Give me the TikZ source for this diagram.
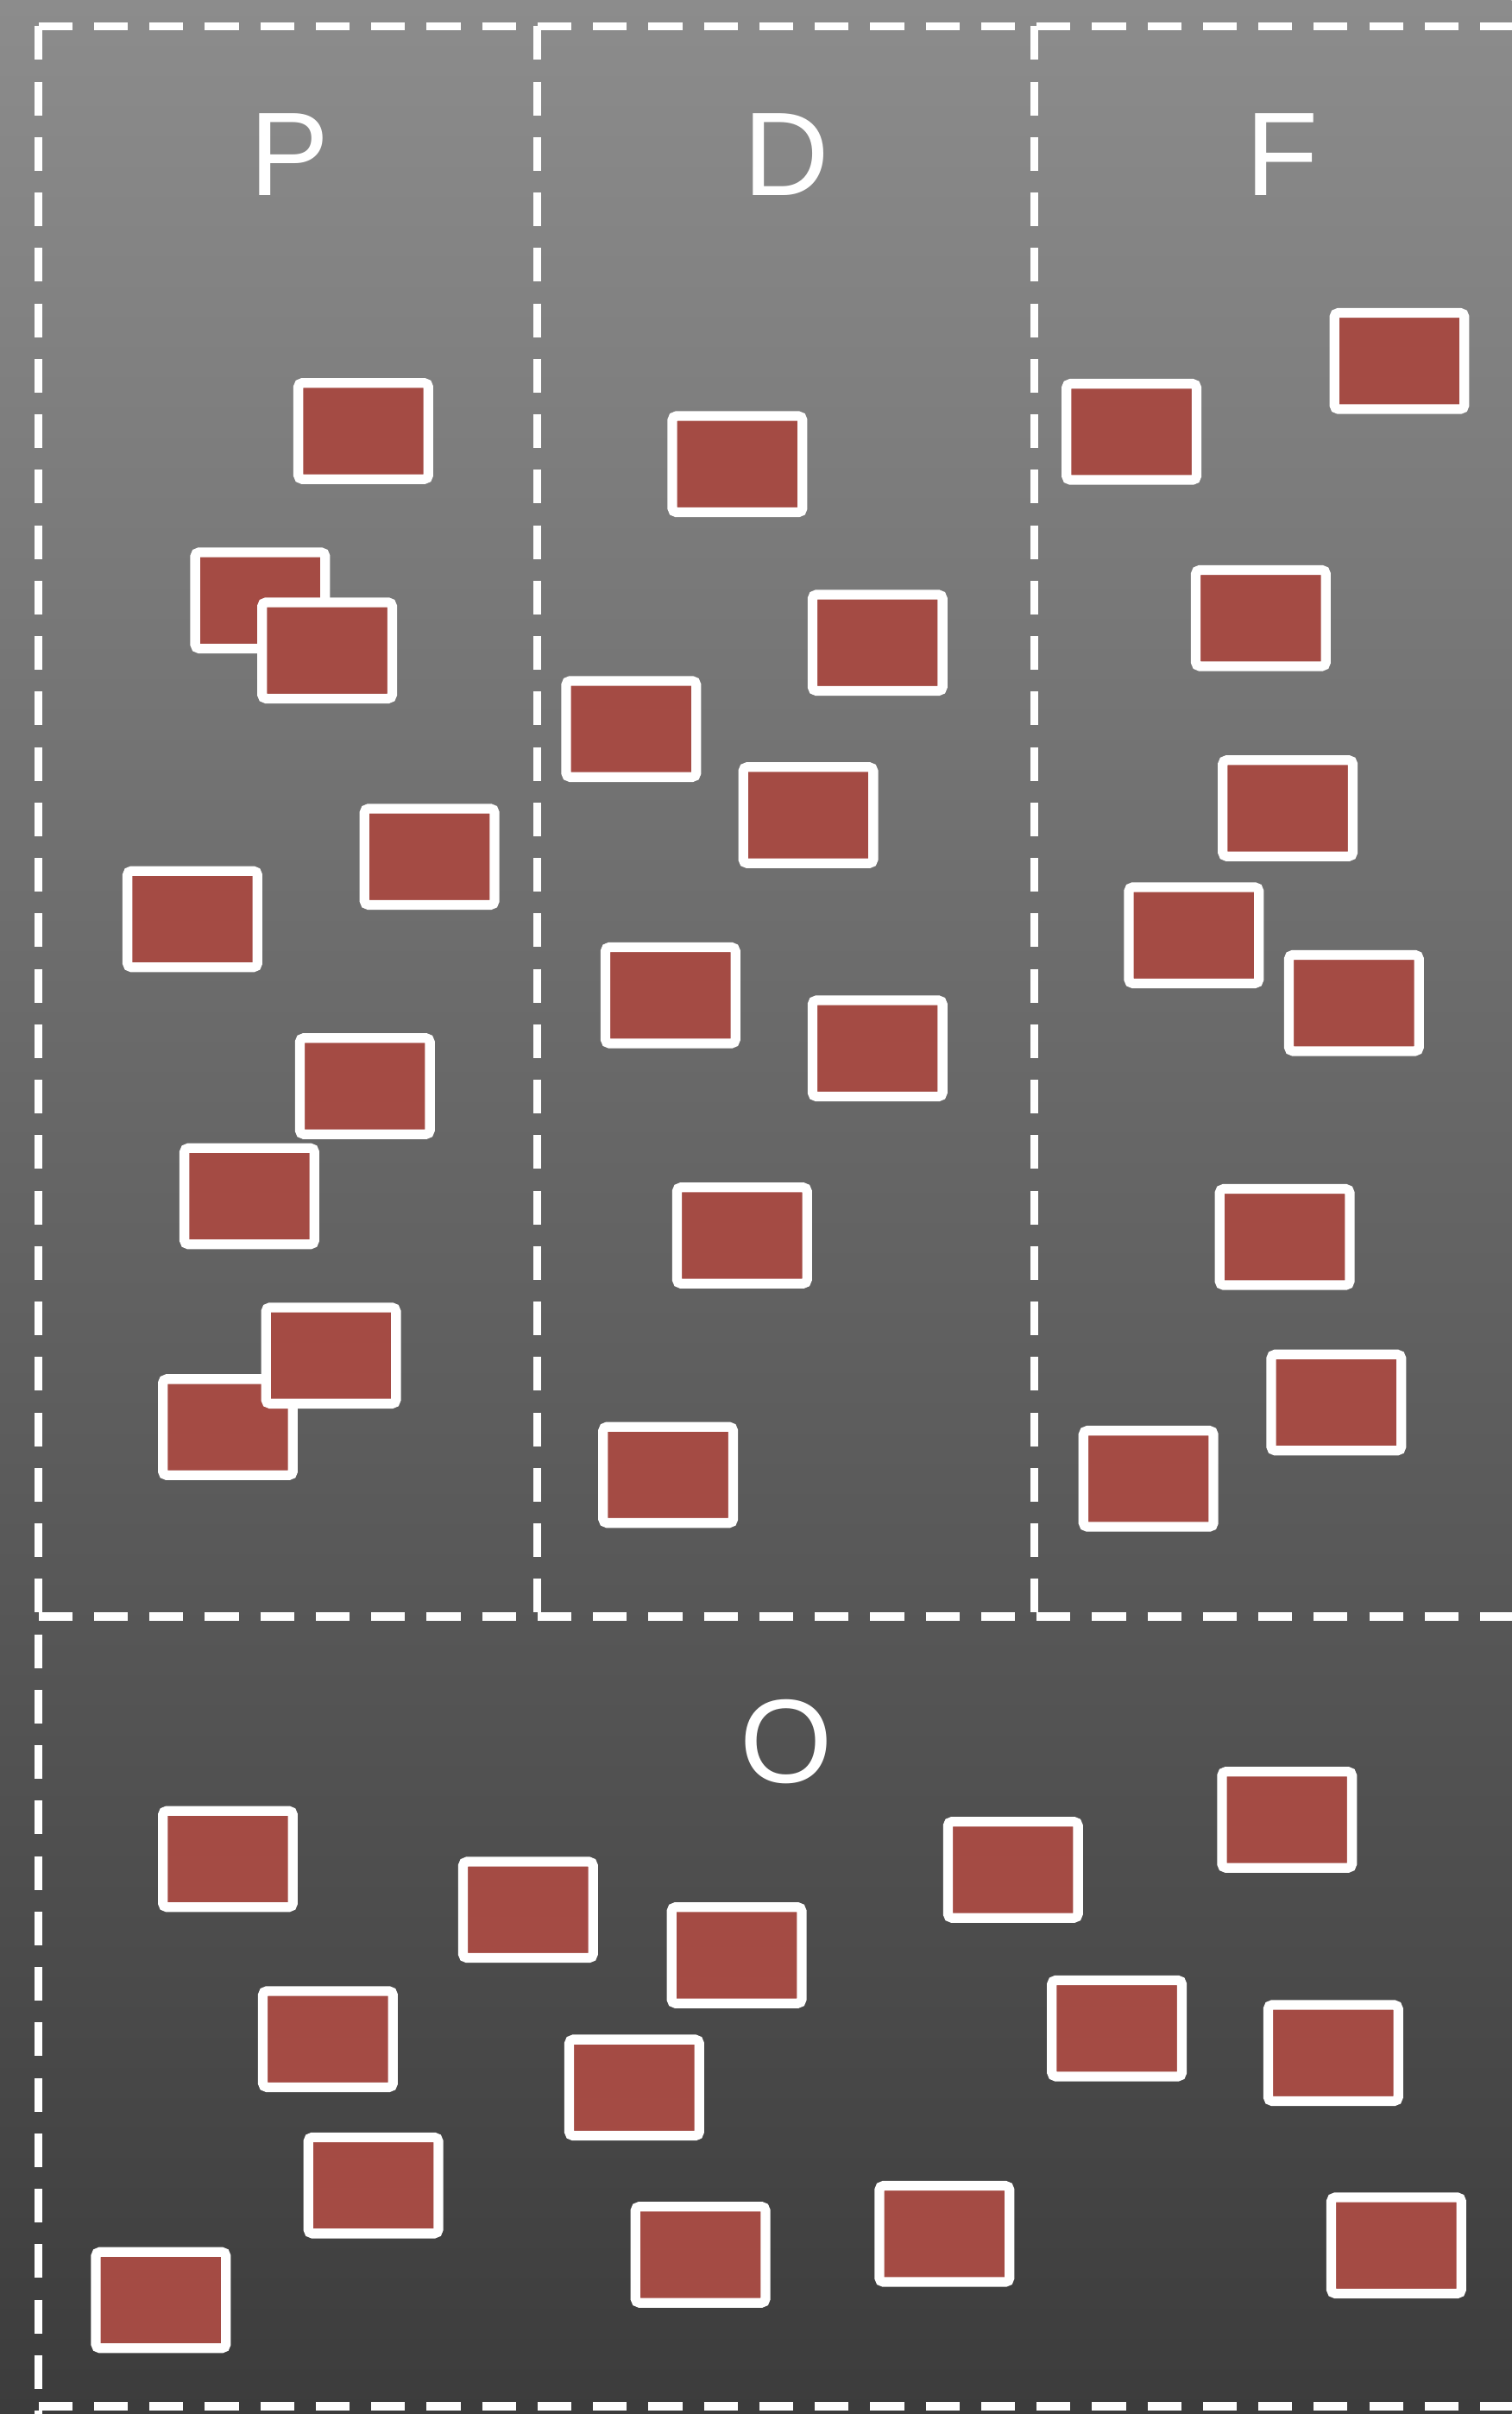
\documentclass[tikz,border=0pt]{standalone}
\usepackage{fontspec}
\setmainfont{Liberation Sans}
\definecolor{boxred}{RGB}{164,75,68}
\definecolor{bgtop}{RGB}{140,140,140}
\definecolor{bgbot}{RGB}{60,60,60}
\tikzset{
  rbox/.style={draw=white, fill=boxred, line width=3.6pt, rounded corners=1.5pt,
    minimum width=1.69cm, minimum height=1.25cm, inner sep=0pt},
  divline/.style={draw=white, line width=3pt, dash pattern=on 12.5pt off 8pt},
  lbl/.style={text=white, font=\fontsize{44}{44}\selectfont, inner sep=0pt, anchor=base}
}
\begin{document}
\begin{tikzpicture}[x=0.02cm, y=-0.02cm]
\useasboundingbox (0,0) rectangle (982,1568);
\shade[top color=bgtop, bottom color=bgbot] (0,0) rectangle (982,1568);

% frame coordinates
\coordinate (tl) at (25,17);
\coordinate (tr) at (982,17);
\coordinate (ml) at (25,1050);
\coordinate (mr) at (982,1050);
\coordinate (bl) at (25,1563);
\coordinate (br) at (982,1563);
\coordinate (d1t) at (349,17);
\coordinate (d1b) at (349,1050);
\coordinate (d2t) at (672,17);
\coordinate (d2b) at (672,1050);
\coordinate (lb) at (25,1568);

\draw[divline] (tl) -- (tr);
\draw[divline] (ml) -- (mr);
\draw[divline] (bl) -- (br);
\draw[divline] (tl) -- (lb);
\draw[divline] (d1t) -- (d1b);
\draw[divline] (d2t) -- (d2b);

% labels
\node[lbl] (lP) at (188,127) {P};
\node[lbl] (lD) at (511,127) {D};
\node[lbl] (lF) at (833,127) {F};
\node[lbl] (lO) at (511,1158) {O};

% P column
\node[rbox] (p1) at (236,280) {};
\node[rbox] (p2) at (169,390) {};
\node[rbox] (p3) at (212.5,422.5) {};
\node[rbox] (p4) at (279,556.5) {};
\node[rbox] (p5) at (125,597) {};
\node[rbox] (p6) at (237,705.5) {};
\node[rbox] (p7) at (162,777) {};
\node[rbox] (p8) at (148,927) {};
\node[rbox] (p9) at (215,880.5) {};

% D column
\node[rbox] (d1) at (479,301.5) {};
\node[rbox] (d2) at (570,417.5) {};
\node[rbox] (d3) at (410,473.5) {};
\node[rbox] (d4) at (525,529.5) {};
\node[rbox] (d5) at (435.5,646.5) {};
\node[rbox] (d6) at (570,681) {};
\node[rbox] (d7) at (482,802.5) {};
\node[rbox] (d8) at (434,958) {};

% F column
\node[rbox] (f1) at (909,234.5) {};
\node[rbox] (f2) at (735,280.5) {};
\node[rbox] (f3) at (819,401.5) {};
\node[rbox] (f4) at (836.5,525) {};
\node[rbox] (f5) at (775.5,607.5) {};
\node[rbox] (f6) at (879.5,651.5) {};
\node[rbox] (f7) at (834.5,803.5) {};
\node[rbox] (f8) at (868,911) {};
\node[rbox] (f9) at (746,960.5) {};

% O section
\node[rbox] (o1) at (148,1207.5) {};
\node[rbox] (o2) at (343,1240.5) {};
\node[rbox] (o3) at (478.5,1270) {};
\node[rbox] (o4) at (658,1214.5) {};
\node[rbox] (o5) at (836,1182) {};
\node[rbox] (o6) at (213,1324.5) {};
\node[rbox] (o7) at (412,1356) {};
\node[rbox] (o8) at (725.5,1317.5) {};
\node[rbox] (o9) at (866,1333.5) {};
\node[rbox] (o10) at (242.5,1419.5) {};
\node[rbox] (o11) at (104.5,1494) {};
\node[rbox] (o12) at (455,1464.5) {};
\node[rbox] (o13) at (613.5,1451) {};
\node[rbox] (o14) at (907,1458.5) {};
\end{tikzpicture}
\end{document}
